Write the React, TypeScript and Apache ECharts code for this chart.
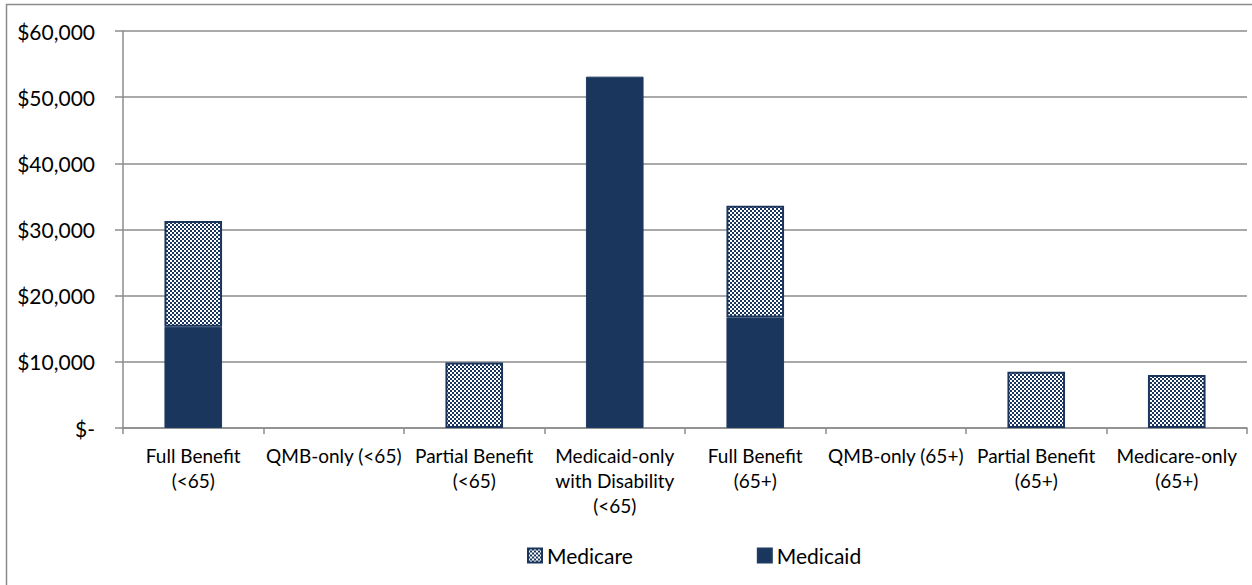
import React, { useEffect, useRef } from "react";
import * as echarts from "echarts";

const categories = [
  "Full Benefit\n(<65)",
  "QMB-only (<65)",
  "Partial Benefit\n(<65)",
  "Medicaid-only\nwith Disability\n(<65)",
  "Full Benefit\n(65+)",
  "QMB-only (65+)",
  "Partial Benefit\n(65+)",
  "Medicare-only\n(65+)",
];
const medicaid = [15300, 0, 0, 53100, 16700, 0, 0, 0];
const medicare = [16000, 0, 9900, 0, 16900, 0, 8500, 8000];
const yTicks = [0, 10000, 20000, 30000, 40000, 50000, 60000];

const NAVY = "#1B365D";
const FONT = "Lato";

function makePattern(): HTMLCanvasElement {
  const c = document.createElement("canvas");
  c.width = 4;
  c.height = 4;
  const ctx = c.getContext("2d")!;
  ctx.fillStyle = "#ffffff";
  ctx.fillRect(0, 0, 4, 4);
  ctx.fillStyle = NAVY;
  ctx.fillRect(0, 0, 2, 2);
  ctx.fillRect(2, 2, 2, 2);
  return c;
}

function fmt(v: number): string {
  if (v === 0) return "$-";
  return "$" + v.toLocaleString("en-US");
}

const nz = (arr: number[]) => arr.map((v) => (v === 0 ? null : v));

export default function App() {
  const ref = useRef<HTMLDivElement>(null);
  useEffect(() => {
    document.body.style.margin = "0";
    const chart = echarts.init(ref.current!, null, { renderer: "svg" });
    const pattern = makePattern();
    const patternFill: any = { image: pattern, repeat: "repeat", imageWidth: 4, imageHeight: 4 };
    chart.setOption({
      animation: false,
      textStyle: { fontFamily: FONT },
      graphic: [
        {
          type: "rect",
          shape: { x: 6.5, y: 4.5, width: 1260, height: 600 },
          style: { fill: "none", stroke: "#8c8c8c", lineWidth: 1.5 },
          silent: true,
        },
      ],
      grid: { left: 123, top: 31, right: 5, bottom: 157 },
      legend: {
        data: ["Medicare", "Medicaid"],
        left: 522,
        top: 540,
        icon: "rect",
        itemWidth: 14,
        itemHeight: 14,
        itemGap: 124,
        textStyle: { fontFamily: FONT, fontSize: 21, color: "#000" },
      },
      xAxis: {
        type: "category",
        data: categories,
        axisLine: { lineStyle: { color: "#8c8c8c", width: 1.5 } },
        axisTick: { show: true, length: 6, lineStyle: { color: "#8c8c8c", width: 1.5 } },
        axisLabel: {
          interval: 0,
          fontFamily: FONT,
          fontSize: 19,
          lineHeight: 25,
          color: "#000",
          margin: 15,
        },
      },
      yAxis: {
        type: "value",
        min: 0,
        max: 60000,
        interval: 10000,
        axisLine: { show: true, lineStyle: { color: "#8c8c8c", width: 1.5 } },
        axisTick: { show: true, inside: false, length: 8, lineStyle: { color: "#8c8c8c", width: 1.5 } },
        splitLine: { lineStyle: { color: "#8c8c8c", width: 1.5 } },
        axisLabel: {
          fontFamily: FONT,
          fontSize: 21,
          color: "#000",
          margin: 28,
          formatter: (v: number) => (yTicks.includes(v) ? fmt(v) : ""),
        },
      },
      series: [
        {
          name: "Medicaid",
          type: "bar",
          stack: "total",
          barWidth: "41%",
          data: nz(medicaid),
          itemStyle: { color: NAVY, borderColor: "#1F3A63", borderWidth: 1 },
        },
        {
          name: "Medicare",
          type: "bar",
          stack: "total",
          barWidth: "41%",
          data: nz(medicare),
          itemStyle: { color: patternFill, borderColor: NAVY, borderWidth: 2 },
        },
      ],
    });
    return () => chart.dispose();
  }, []);
  return <div ref={ref} style={{ width: 1252, height: 585 }} />;
}
